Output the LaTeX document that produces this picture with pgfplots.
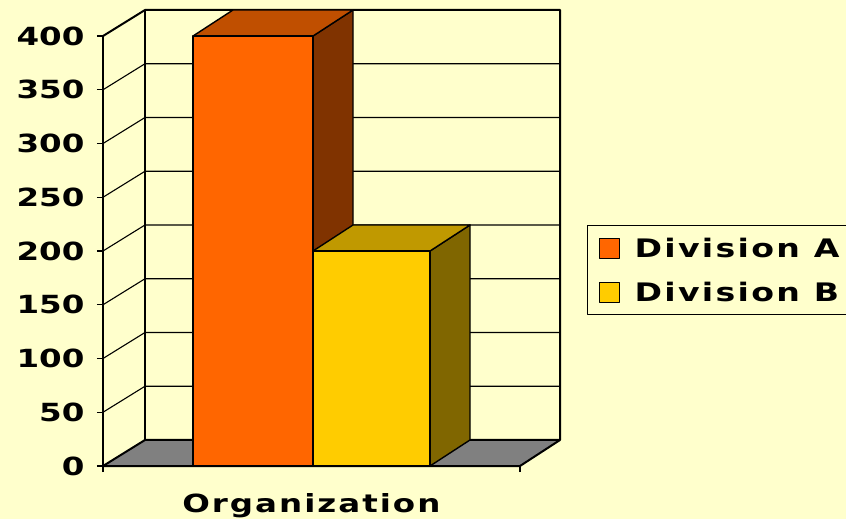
\documentclass[border=0pt]{standalone}
\usepackage{fontspec}
\setmainfont{DejaVu Sans}[FakeStretch=1.3]
\usepackage{pgfplots}
\pgfplotsset{compat=1.18}
\definecolor{bg}{HTML}{FFFFCC}
\definecolor{aFront}{HTML}{FF6600}
\definecolor{aTop}{HTML}{C04F00}
\definecolor{aSide}{HTML}{803300}
\definecolor{bFront}{HTML}{FFCC00}
\definecolor{bTop}{HTML}{C09900}
\definecolor{bSide}{HTML}{806600}
\definecolor{floorgray}{HTML}{808080}
\newcommand{\tickfont}{\bfseries\fontsize{25}{25}\selectfont}
\newcommand{\chartfont}{\bfseries\fontsize{25}{25}\selectfont\addfontfeature{LetterSpace=8}}
\newcommand{\legfont}{\bfseries\fontsize{25.5}{25.5}\selectfont\addfontfeature{LetterSpace=9}}
\begin{document}
\begin{tikzpicture}
\path[use as bounding box] (0,0) rectangle (846pt,-519pt);
\fill[bg] (0,0) rectangle (846pt,-519pt);
\clip (0,0) rectangle (846pt,-519pt);
\begin{axis}[
  at={(103pt,-466pt)}, anchor=south west,
  scale only axis, width=457pt, height=456pt,
  xmin=103, xmax=560, ymin=0, ymax=424.2,
  clip=false,
  axis lines*=left, axis line style={draw=none},
  xtick={103,520}, xticklabels={},
  ytick={0,50,...,400},
  tick align=outside, major tick length=6pt,
  major tick style={black, line width=1.2pt},
  /pgf/number format/assume math mode=true,
  yticklabel style={font=\tickfont, xshift=-9pt},
  xlabel={Organization},
  xlabel style={at={(axis description cs:0.456,0)}, anchor=base, yshift=-46pt, font=\chartfont},
  legend style={at={(axis description cs:1.059,0.5285)}, anchor=north west,
    draw=black, line width=1.2pt, fill=bg, font=\legfont,
    inner xsep=11pt, inner ysep=12pt, row sep=23pt,
    nodes={inner sep=0pt},
    /tikz/every odd column/.append style={column sep=15pt}},
  legend cell align=left,
  line join=round,
]
% walls: gridlines
\addplot[black, line width=1.1pt, forget plot] coordinates {(103,50) (145,74.2) (560,74.2)};
\addplot[black, line width=1.1pt, forget plot] coordinates {(103,100) (145,124.2) (560,124.2)};
\addplot[black, line width=1.1pt, forget plot] coordinates {(103,150) (145,174.2) (560,174.2)};
\addplot[black, line width=1.1pt, forget plot] coordinates {(103,200) (145,224.2) (560,224.2)};
\addplot[black, line width=1.1pt, forget plot] coordinates {(103,250) (145,274.2) (560,274.2)};
\addplot[black, line width=1.1pt, forget plot] coordinates {(103,300) (145,324.2) (560,324.2)};
\addplot[black, line width=1.1pt, forget plot] coordinates {(103,350) (145,374.2) (560,374.2)};
% wall outlines
\addplot[black, line width=2pt, forget plot] coordinates {(103,400) (145,424.2) (560,424.2) (560,24.2)};
\addplot[black, line width=2pt, forget plot] coordinates {(145,24.2) (145,424.2)};
\addplot[black, line width=2pt, forget plot] coordinates {(103,0) (103,400)};
% floor
\addplot[fill=floorgray, draw=black, line width=2pt, forget plot] coordinates {(103,0) (520,0) (560,24.2) (145,24.2) (103,0)};
% Division A
\addplot[fill=aSide, draw=black, line width=1.4pt, forget plot] coordinates {(313,0) (353,24.2) (353,424.2) (313,400) (313,0)};
\addplot[fill=aTop, draw=black, line width=1.4pt, forget plot] coordinates {(193,400) (313,400) (353,424.2) (233,424.2) (193,400)};
\addplot[ybar, bar width=120, bar shift=0pt, fill=aFront, draw=black, line width=1.4pt,
  legend image code/.code={\draw[fill=aFront, draw=black, line width=1pt] (0pt,-10pt) rectangle (20pt,10pt);}]
  coordinates {(253,400)};
\addlegendentry{Division A}
% Division B
\addplot[fill=bSide, draw=black, line width=1.4pt, forget plot] coordinates {(430,0) (470,24.2) (470,224.2) (430,200) (430,0)};
\addplot[fill=bTop, draw=black, line width=1.4pt, forget plot] coordinates {(313,200) (430,200) (470,224.2) (353,224.2) (313,200)};
\addplot[ybar, bar width=117, bar shift=0pt, fill=bFront, draw=black, line width=1.4pt,
  legend image code/.code={\draw[fill=bFront, draw=black, line width=1pt] (0pt,-10pt) rectangle (20pt,10pt);}]
  coordinates {(371.5,200)};
\addlegendentry{Division B}
\end{axis}
\end{tikzpicture}
\end{document}
